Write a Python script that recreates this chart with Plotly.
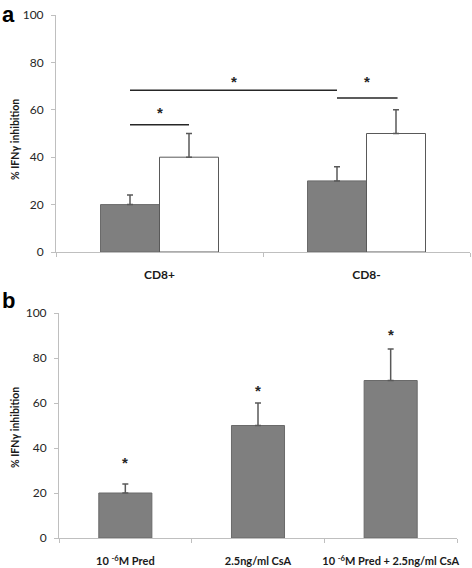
import plotly.graph_objects as go

# Panel a data
cats_a = ["CD8+", "CD8-"]
gray_a = [20, 30]
gray_a_err = [4, 6]
white_a = [40, 50]
white_a_err = [10, 10]

# Significance brackets panel a: (x0, x1, y) and stars (x, y)
sig_lines_a = [(-0.1425, 0.1425, 53.7), (-0.1425, 0.8575, 68.3), (0.8575, 1.15, 65.0)]
sig_stars_a = [(0.0, 60.0), (0.36, 73.0), (1.0, 73.0)]

# Panel b data
cats_b = ["10 <sup>-6</sup>M Pred", "2.5ng/ml CsA", "10 <sup>-6</sup>M Pred + 2.5ng/ml CsA"]
vals_b = [20, 50, 70]
errs_b = [4, 10, 14]
stars_b_y = [35, 67, 92]

ytitle = "% IFNγ inhibition"
FONT = "Lato"

fig = go.Figure()

fig.add_trace(go.Bar(
    x=cats_a, y=gray_a, xaxis="x", yaxis="y",
    marker=dict(color="#7f7f7f", line=dict(color="#6a6a6a", width=1)),
    error_y=dict(type="data", array=gray_a_err, arrayminus=[0, 0], symmetric=False,
                 color="#595959", thickness=1.5, width=3),
    showlegend=False))
fig.add_trace(go.Bar(
    x=cats_a, y=white_a, xaxis="x", yaxis="y",
    marker=dict(color="#ffffff", line=dict(color="#595959", width=1)),
    error_y=dict(type="data", array=white_a_err, arrayminus=[0, 0], symmetric=False,
                 color="#595959", thickness=1.5, width=3),
    showlegend=False))

fig.add_trace(go.Bar(
    x=cats_b, y=vals_b, xaxis="x2", yaxis="y2",
    marker=dict(color="#7f7f7f", line=dict(color="#6a6a6a", width=1)),
    error_y=dict(type="data", array=errs_b, arrayminus=[0, 0, 0], symmetric=False,
                 color="#595959", thickness=1.5, width=3),
    showlegend=False))

W, H = 472, 568
def xd(a, b):
    return [a / W, b / W]
def yd(top, bottom):
    return [(H - bottom) / H, (H - top) / H]

axis_common = dict(showline=True, linecolor="#bfbfbf", linewidth=1, ticks="outside",
                   ticklen=4, tickcolor="#bfbfbf", showgrid=False, zeroline=False,
                   automargin=False)

tickfont_y = dict(family=FONT, size=12, color="#262626")
tickfont_xa = dict(family=FONT, size=12, color="#1a1a1a", weight="bold")
tickfont_xb = dict(family=FONT, size=11, color="#1a1a1a", weight="bold")
title_font = dict(family=FONT, size=10.5, color="#1a1a1a", weight="bold")

fig.update_layout(
    width=W, height=H, margin=dict(l=0, r=0, t=0, b=0),
    paper_bgcolor="white", plot_bgcolor="white",
    barmode="group", bargap=0.43, bargroupgap=0,
    xaxis=dict(domain=xd(56, 470), anchor="y", type="category", tickson="boundaries",
               tickfont=tickfont_xa, range=[-0.5, 1.5], tickangle=0,
               ticklabelstandoff=12, **axis_common),
    yaxis=dict(domain=yd(15, 252), anchor="x", range=[0, 100], dtick=20,
               tickfont=tickfont_y, ticklabelstandoff=5, **axis_common),
    xaxis2=dict(domain=xd(59, 457), anchor="y2", type="category", tickson="boundaries",
                tickfont=tickfont_xb, range=[-0.5, 2.5], tickangle=0,
                ticklabelstandoff=13, **axis_common),
    yaxis2=dict(domain=yd(313, 538), anchor="x2", range=[0, 100], dtick=20,
                tickfont=tickfont_y, ticklabelstandoff=5, **axis_common),
)

# panel b bar width
fig.update_traces(selector=dict(xaxis="x2"), width=0.4)

shapes = []
for x0, x1, y in sig_lines_a:
    shapes.append(dict(type="line", xref="x", yref="y", x0=x0, x1=x1, y0=y, y1=y,
                       line=dict(color="#262626", width=1.5)))
fig.update_layout(shapes=shapes)

star_font = dict(family="Liberation Sans", size=15, color="#262626", weight="bold")
for x, y in sig_stars_a:
    fig.add_annotation(x=x, y=y, xref="x", yref="y", text="*", showarrow=False,
                       font=star_font, yanchor="middle", yshift=-3)
for i, y in enumerate(stars_b_y):
    fig.add_annotation(x=i, y=y, xref="x2", yref="y2", text="*", showarrow=False,
                       font=star_font, yanchor="middle", yshift=-3)

# y-axis titles
for yc in (140, 428):
    fig.add_annotation(x=15 / W, y=1 - yc / H, xref="paper", yref="paper", text=ytitle,
                       textangle=-90, showarrow=False, xanchor="center", yanchor="middle",
                       font=title_font)

fig.add_annotation(x=0, y=1 - 0 / H, xref="paper", yref="paper", text="a",
                   showarrow=False, xanchor="left", yanchor="top",
                   font=dict(family="Liberation Sans", size=22, color="black", weight="bold"))
fig.add_annotation(x=0, y=1 - 286 / H, xref="paper", yref="paper", text="b",
                   showarrow=False, xanchor="left", yanchor="top",
                   font=dict(family="Liberation Sans", size=22, color="black", weight="bold"))

fig.write_html("out.html", config={"displayModeBar": False},
               post_script="document.body.style.margin='0';document.body.style.overflow='hidden';")
